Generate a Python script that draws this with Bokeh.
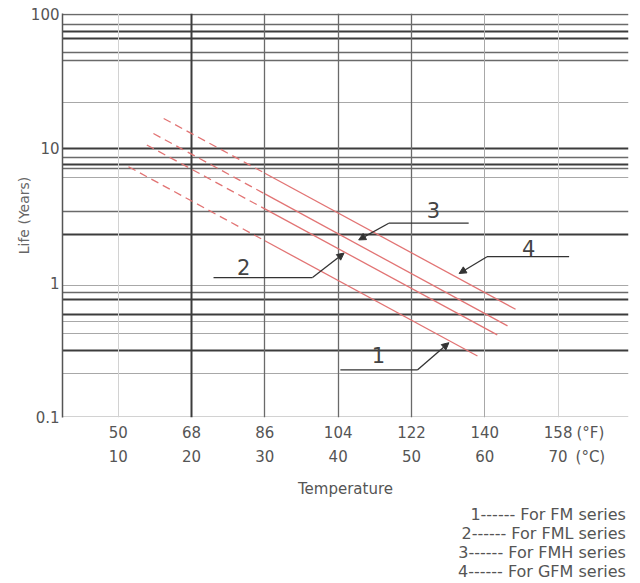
from bokeh.plotting import figure
from bokeh.layouts import column
from bokeh.models import (Range1d, FixedTicker, LinearAxis, CustomJSTickFormatter,
                          ColumnDataSource, Arrow, NormalHead)
from bokeh.core.properties import value
from bokeh.embed import file_html
from bokeh.resources import INLINE

# ---------------- data ----------------
series_labels = ["1", "2", "3", "4"]
series_names = ["FM", "FML", "FMH", "GFM"]
temp_start = [11.4, 13.9, 14.8, 16.2]      # deg C
life_start = [7.3, 10.6, 12.9, 16.7]       # years
temp_mid = [30.0, 30.0, 30.0, 30.0]        # end of dashed part
life_mid = [2.05, 3.54, 4.58, 6.53]
temp_end = [59.0, 61.7, 63.1, 64.2]
life_end = [0.284, 0.408, 0.476, 0.633]

temp_c_ticks = [10, 20, 30, 40, 50, 60, 70]
temp_f_labels = ["50", "68", "86", "104", "122", "140", "158"]
temp_c_labels = ["10", "20", "30", "40", "50", "60", "70"]
unit_tick = 74.4
life_ticks = [0.1, 1, 10, 100]

# log-paper grid of the scan (value, weight 0 thin / 1 medium / 2 thick / 3 faint)
grid_life = [100, 84, 74, 66, 52, 45, 22, 10, 8.6, 7.6, 7.1, 6.1, 3.4, 2.3,
             0.95, 0.85, 0.75, 0.58, 0.51, 0.42, 0.31, 0.21, 0.1]
grid_life_weight = [1, 1, 2, 2, 1, 1, 0, 2, 1, 2, 1, 0, 1, 2,
                    0, 1, 2, 2, 0, 0, 2, 0, 3]
grid_temp = [10, 20, 30, 40, 50, 60, 70]
grid_temp_weight = [3, 2, 1, 1, 1, 0, 3]

# callouts: number label, horizontal leader, arrow tip
callout_temp = [45.5, 27.1, 53.0, 66.0]
callout_life = [0.29, 1.31, 3.47, 1.80]
leader_temp_far = [40.3, 23.0, 57.8, 71.5]
leader_temp_elbow = [50.8, 36.5, 46.9, 60.3]
leader_life = [0.224, 1.09, 2.77, 1.56]
tip_temp = [55.1, 40.8, 42.8, 56.5]
tip_life = [0.357, 1.66, 2.08, 1.17]

legend_texts = ["1------ For FM series", "2------ For FML series",
                "3------ For FMH series", "4------ For GFM series"]

# ---------------- styles ----------------
W_STYLE = {0: (1.0, "#a8a8a8"), 1: (1.3, "#6a6a6a"), 2: (2.0, "#3c3c3c"), 3: (1.0, "#d2d2d2")}
FONT = "DejaVu Sans"
RED = "#e27474"

Y0, Y1 = 0.099, 101
p = figure(width=640, height=503, output_backend="svg", toolbar_location=None,
           x_range=Range1d(2.4, 79.6), y_range=Range1d(Y0, Y1), y_axis_type="log",
           min_border_left=62, min_border_right=12, min_border_top=13, min_border_bottom=86,
           background_fill_color="white", border_fill_color="white")
p.outline_line_color = None
p.grid.visible = False

# grid lines
hs = ColumnDataSource(dict(y=grid_life,
                           w=[W_STYLE[k][0] for k in grid_life_weight],
                           c=[W_STYLE[k][1] for k in grid_life_weight]))
p.hspan(y="y", line_width="w", line_color="c", source=hs)
vs = ColumnDataSource(dict(x=grid_temp,
                           w=[W_STYLE[k][0] for k in grid_temp_weight],
                           c=[W_STYLE[k][1] for k in grid_temp_weight]))
p.vspan(x="x", line_width="w", line_color="c", source=vs)

# life lines
p.multi_line(xs=[[a, b] for a, b in zip(temp_start, temp_mid)],
             ys=[[a, b] for a, b in zip(life_start, life_mid)],
             line_color=RED, line_width=1.3, line_dash="8 5")
p.multi_line(xs=[[a, b] for a, b in zip(temp_mid, temp_end)],
             ys=[[a, b] for a, b in zip(life_mid, life_end)],
             line_color=RED, line_width=1.3)

# callouts
p.multi_line(xs=[[a, b] for a, b in zip(leader_temp_far, leader_temp_elbow)],
             ys=[[a, a] for a in leader_life], line_color="#333333", line_width=1.3)
arr_src = ColumnDataSource(dict(x0=leader_temp_elbow, y0=leader_life, x1=tip_temp, y1=tip_life))
p.add_layout(Arrow(end=NormalHead(size=7, fill_color="#333333", line_color="#333333", line_width=1),
                   x_start="x0", y_start="y0", x_end="x1", y_end="y1", source=arr_src,
                   line_color="#333333", line_width=1.3))
p.text(x=callout_temp, y=callout_life, text=series_labels, text_font=value(FONT),
       text_font_size="21px", text_align="center", text_baseline="middle", text_color="#444444")

# y axis
ya = p.yaxis[0]
ya.ticker = FixedTicker(ticks=life_ticks)
ya.formatter = CustomJSTickFormatter(code="return tick.toString();")
ya.minor_tick_line_color = None
ya.major_tick_line_color = None
ya.major_tick_out = 0
ya.major_label_standoff = 3
ya.axis_line_color = "#555555"
ya.axis_line_width = 1.5
ya.major_label_text_font = FONT
ya.major_label_text_font_size = "15px"
ya.major_label_text_color = "#555555"
ya.axis_label = "Life (Years)"
ya.axis_label_text_font = FONT
ya.axis_label_text_font_size = "14px"
ya.axis_label_text_font_style = "normal"
ya.axis_label_text_color = "#666666"
ya.axis_label_standoff = -4


def style_x(ax, labels, standoff):
    ax.ticker = FixedTicker(ticks=temp_c_ticks + [unit_tick])
    ax.formatter = CustomJSTickFormatter(args=dict(t=temp_c_ticks + [unit_tick], l=labels),
                                         code="const i = t.indexOf(tick); return i >= 0 ? l[i] : '';")
    ax.major_tick_line_color = None
    ax.minor_tick_line_color = None
    ax.major_tick_out = 0
    ax.axis_line_color = None
    ax.major_label_standoff = standoff
    ax.major_label_text_font = FONT
    ax.major_label_text_font_size = "15px"
    ax.major_label_text_color = "#555555"


xa = p.xaxis[0]
style_x(xa, temp_f_labels + ["(°F)"], 6)
xc = LinearAxis()
style_x(xc, temp_c_labels + ["(°C)"], 3)
xc.axis_label = "Temperature"
xc.axis_label_text_font = FONT
xc.axis_label_text_font_size = "15px"
xc.axis_label_text_font_style = "normal"
xc.axis_label_text_color = "#555555"
xc.axis_label_standoff = 11
p.add_layout(xc, "below")

# legend block under the chart
leg = figure(width=640, height=80, output_backend="svg", toolbar_location=None,
             x_range=Range1d(0, 640), y_range=Range1d(80, 0),
             x_axis_location=None, y_axis_location=None, min_border=0,
             min_border_left=0, min_border_right=0, min_border_top=0, min_border_bottom=0,
             background_fill_color="white", border_fill_color="white")
leg.outline_line_color = None
leg.grid.visible = False
leg.text(x=[637] * 4, y=[11, 30, 49, 68], text=legend_texts, text_font=value(FONT),
         text_font_size="16px", text_align="right", text_baseline="middle",
         text_color="#555555")

layout = column(p, leg, spacing=0)
open("out.html", "w").write(file_html(layout, INLINE))
